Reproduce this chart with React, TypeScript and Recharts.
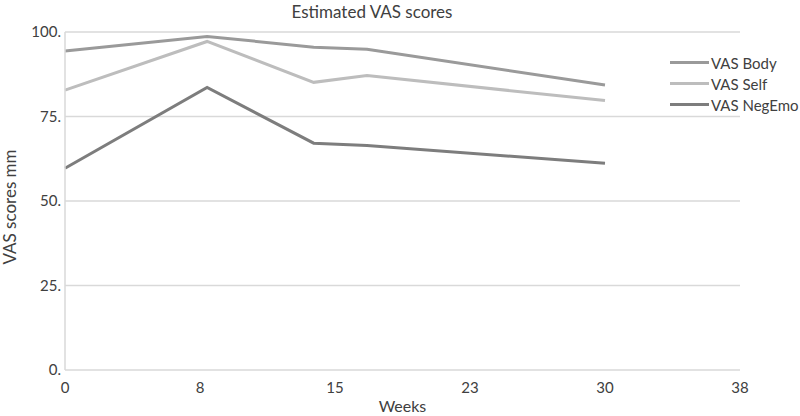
import { CartesianGrid, Line, LineChart, XAxis, YAxis } from 'recharts';

const weeks = [0, 8, 14, 17, 30.4];
const vasBody = [94.4, 98.7, 95.5, 94.9, 84.3];
const vasSelf = [82.8, 97.2, 85.1, 87.1, 79.7];
const vasNegEmo = [59.7, 83.6, 67.1, 66.4, 61.2];

const xTicks = [0, 7.6, 15.2, 22.8, 30.4, 38];
const yTicks = [0, 25, 50, 75, 100];

const series = [
  { key: 'body', name: 'VAS Body', color: '#9a9a9a' },
  { key: 'self', name: 'VAS Self', color: '#bdbdbd' },
  { key: 'negEmo', name: 'VAS NegEmo', color: '#7d7d7d' },
];

const data = weeks.map((w, i) => ({
  week: w,
  body: vasBody[i],
  self: vasSelf[i],
  negEmo: vasNegEmo[i],
}));

const FONT = 'Lato, "Open Sans", sans-serif';
const TEXT = '#404040';

// legend sits right of the plot, outside the chart's layout
function LegendBox() {
  return (
    <div
      style={{
        position: 'absolute',
        left: 670,
        top: 52,
        whiteSpace: 'nowrap',
        fontFamily: FONT,
        fontSize: 15,
        color: TEXT,
      }}
    >
      {series.map((s) => (
        <div key={s.key} style={{ display: 'flex', alignItems: 'center', height: 21 }}>
          <span
            style={{ display: 'inline-block', flexShrink: 0, width: 39, height: 3, background: s.color, marginRight: 2 }}
          />
          <span>{s.name}</span>
        </div>
      ))}
    </div>
  );
}

export default function App() {
  return (
    <div style={{ position: 'fixed', left: 0, top: 0, width: 800, height: 416, background: '#fff' }}>
      <div
        style={{
          position: 'absolute',
          left: 0,
          width: 744,
          top: 1,
          textAlign: 'center',
          fontFamily: FONT,
          fontSize: 17,
          color: TEXT,
        }}
      >
        Estimated VAS scores
      </div>
      <LineChart width={800} height={416} data={data} margin={{ top: 32, right: 60, bottom: 0, left: 0 }}>
        <CartesianGrid vertical={false} stroke="#d9d9d9" strokeWidth={1.5} />
        <XAxis
          dataKey="week"
          type="number"
          domain={[0, 38]}
          ticks={xTicks}
          tickFormatter={(v: number) => String(Math.round(v))}
          axisLine={false}
          tickLine={false}
          height={46}
          tick={{ fill: TEXT, fontSize: 15, fontFamily: FONT }}
          tickMargin={6}
          label={{ value: 'Weeks', position: 'insideBottom', offset: 4, fill: TEXT, fontSize: 16, fontFamily: FONT }}
        />
        <YAxis
          domain={[0, 100]}
          ticks={yTicks}
          tickFormatter={(v: number) => `${v}.`}
          axisLine={{ stroke: '#d9d9d9', strokeWidth: 1.5 }}
          tickLine={false}
          tickSize={4}
          width={65}
          tick={{ fill: TEXT, fontSize: 15, fontFamily: FONT }}
          tickMargin={0}
          label={{
            content: () => (
              <text
                transform="translate(16, 207) rotate(-90)"
                textAnchor="middle"
                fill={TEXT}
                fontSize={17}
                fontFamily={FONT}
              >
                VAS scores mm
              </text>
            ),
          }}
        />
        {series.map((s) => (
          <Line
            key={s.key}
            dataKey={s.key}
            name={s.name}
            stroke={s.color}
            strokeWidth={3}
            dot={false}
            activeDot={false}
            type="linear"
            isAnimationActive={false}
          />
        ))}
      </LineChart>
      <LegendBox />
    </div>
  );
}
